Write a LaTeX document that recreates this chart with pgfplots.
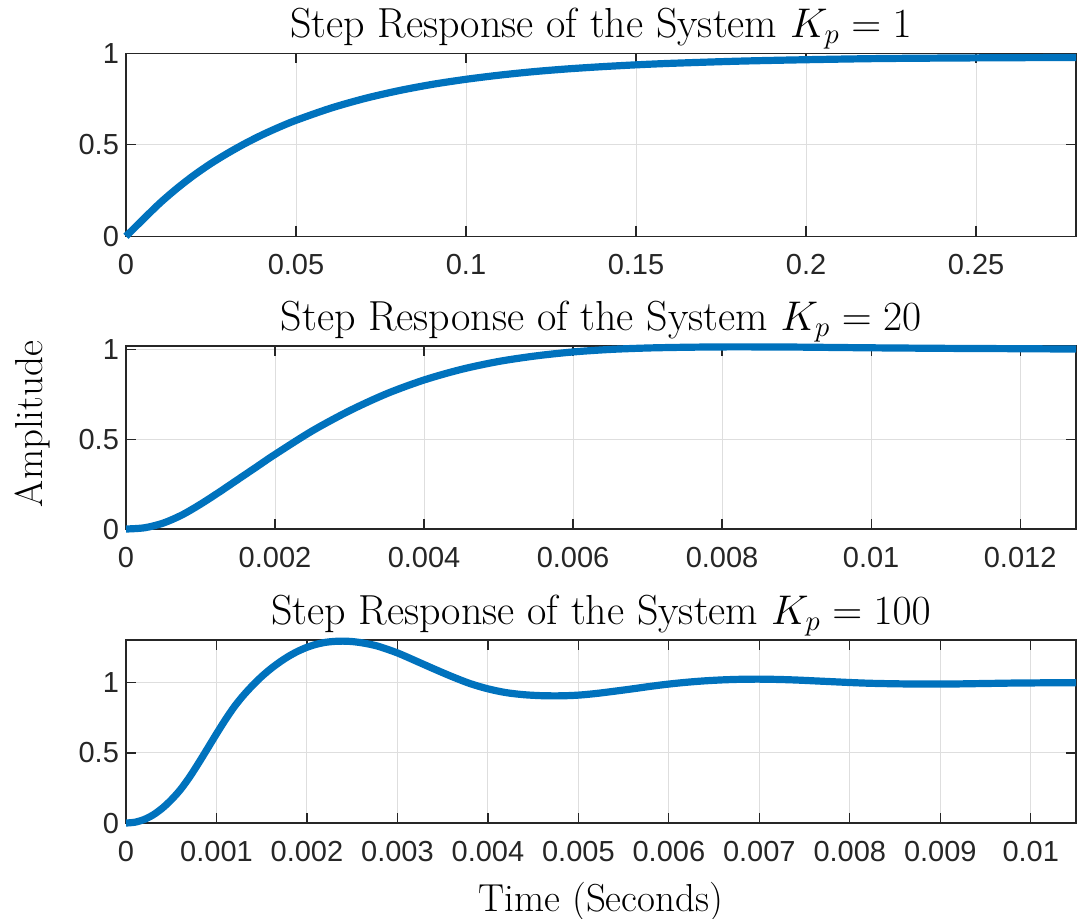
\documentclass[border=0pt]{standalone}
\usepackage{fontspec}
\setsansfont{Liberation Sans}
\usepackage{pgfplots}
\pgfplotsset{compat=1.18}
\definecolor{mblue}{RGB}{0,114,189}
\definecolor{axgray}{RGB}{38,38,38}
\definecolor{gridgray}{RGB}{222,222,222}

\pgfplotsset{mystyle/.style={
  scale only axis, width=475pt, height=91.5pt,
  axis line style={axgray, line width=0.6pt},
  tick style={axgray, line width=0.6pt},
  major tick length=5pt,
  tick align=inside,
  xtick pos=both, ytick pos=both,
  scaled x ticks=false, scaled y ticks=false,
  grid=major, major grid style={gridgray, line width=0.5pt},
  tick label style={font=\sffamily\fontsize{14.5}{16}\selectfont, text=axgray},
  xticklabel style={yshift=-5.5pt},
  every axis title shift=0pt,
  title style={font=\fontsize{21}{25}\selectfont, at={(axis description cs:0.5,1.085)}, anchor=base},
  label style={font=\fontsize{19.5}{23}\selectfont},
  clip=false,
  xmin=0, ymin=0,
  ytick={0,0.5,1}, yticklabels={0,0.5,1},
}}

\pgfplotstableread{
t y
0 0
0.005 0.092
0.01 0.182
0.015 0.262
0.02 0.334
0.025 0.398
0.03 0.455
0.035 0.507
0.04 0.554
0.045 0.596
0.05 0.634
0.06 0.699
0.07 0.752
0.08 0.795
0.09 0.830
0.10 0.858
0.11 0.881
0.12 0.900
0.13 0.915
0.14 0.927
0.15 0.937
0.16 0.945
0.18 0.957
0.20 0.965
0.22 0.971
0.24 0.974
0.26 0.976
0.2794 0.977
}\kpone

\pgfplotstableread{
t y
0 0
0.00025 0.007
0.0005 0.033
0.00075 0.078
0.001 0.138
0.00125 0.205
0.0015 0.275
0.00175 0.345
0.002 0.415
0.0025 0.546
0.003 0.658
0.0035 0.753
0.004 0.829
0.0045 0.888
0.005 0.932
0.0055 0.963
0.006 0.985
0.0065 0.999
0.007 1.007
0.0075 1.011
0.008 1.013
0.0085 1.013
0.009 1.012
0.0095 1.010
0.01 1.008
0.011 1.005
0.012 1.003
0.01275 1.001
}\kptwenty

\pgfplotstableread{
t y
0 0
0.0001 0.006
0.0002 0.025
0.0003 0.058
0.0004 0.105
0.0005 0.165
0.0006 0.237
0.0007 0.325
0.0008 0.425
0.0009 0.53
0.001 0.636
0.0011 0.738
0.0012 0.832
0.0013 0.912
0.0014 0.982
0.0015 1.045
0.0016 1.1
0.0017 1.148
0.0018 1.19
0.0019 1.225
0.002 1.253
0.0021 1.274
0.0022 1.288
0.0023 1.295
0.0024 1.297
0.0025 1.294
0.0026 1.286
0.0027 1.274
0.0028 1.258
0.003 1.213
0.0032 1.157
0.0034 1.1
0.0036 1.045
0.0038 0.995
0.004 0.957
0.0042 0.93
0.0044 0.915
0.0046 0.908
0.0048 0.907
0.005 0.912
0.0052 0.924
0.0054 0.94
0.0056 0.957
0.0058 0.975
0.006 0.991
0.0062 1.004
0.0064 1.014
0.0066 1.021
0.0068 1.025
0.007 1.026
0.0072 1.024
0.0074 1.02
0.0076 1.014
0.0078 1.008
0.008 1.002
0.0082 0.997
0.0084 0.994
0.0086 0.992
0.0088 0.991
0.009 0.991
0.0092 0.992
0.0094 0.994
0.0096 0.996
0.0098 0.998
0.01 0.999
0.0102 1.0
0.0105 1.0
}\kphundred

\begin{document}
\begin{tikzpicture}
\useasboundingbox (-63pt,26.65pt) rectangle (476.5pt,-432.35pt);

\begin{axis}[mystyle, name=ax1, at={(0,0)}, anchor=north west,
  xmax=0.2794, ymax=1,
  xtick={0,0.05,0.1,0.15,0.2,0.25}, xticklabels={0,0.05,0.1,0.15,0.2,0.25},
  title={Step Response of the System $K_p = 1$}]
\addplot[mblue, line width=3.6pt, smooth, line join=round] table[x=t,y=y] {\kpone};
\end{axis}

\begin{axis}[mystyle, name=ax2, at={(0,-146.35pt)}, anchor=north west,
  xmax=0.01275, ymax=1.018,
  xtick={0,0.002,0.004,0.006,0.008,0.01,0.012}, xticklabels={0,0.002,0.004,0.006,0.008,0.01,0.012},
  title={Step Response of the System $K_p = 20$},
  ylabel={Amplitude},
  ylabel style={at={(axis description cs:-0.098,0.574)}, anchor=center}]
\addplot[mblue, line width=3.6pt, smooth, line join=round] table[x=t,y=y] {\kptwenty};
\end{axis}

\begin{axis}[mystyle, name=ax3, at={(0,-293.35pt)}, anchor=north west,
  xmax=0.0105, ymax=1.305,
  xtick={0,0.001,0.002,0.003,0.004,0.005,0.006,0.007,0.008,0.009,0.01},
  xticklabels={0,0.001,0.002,0.003,0.004,0.005,0.006,0.007,0.008,0.009,0.01},
  title={Step Response of the System $K_p = 100$},
  xlabel={Time (Seconds)},
  xlabel style={at={(axis description cs:0.5,-0.485)}, anchor=base}]
\addplot[mblue, line width=3.6pt, smooth, line join=round] table[x=t,y=y] {\kphundred};
\end{axis}
\end{tikzpicture}
\end{document}
